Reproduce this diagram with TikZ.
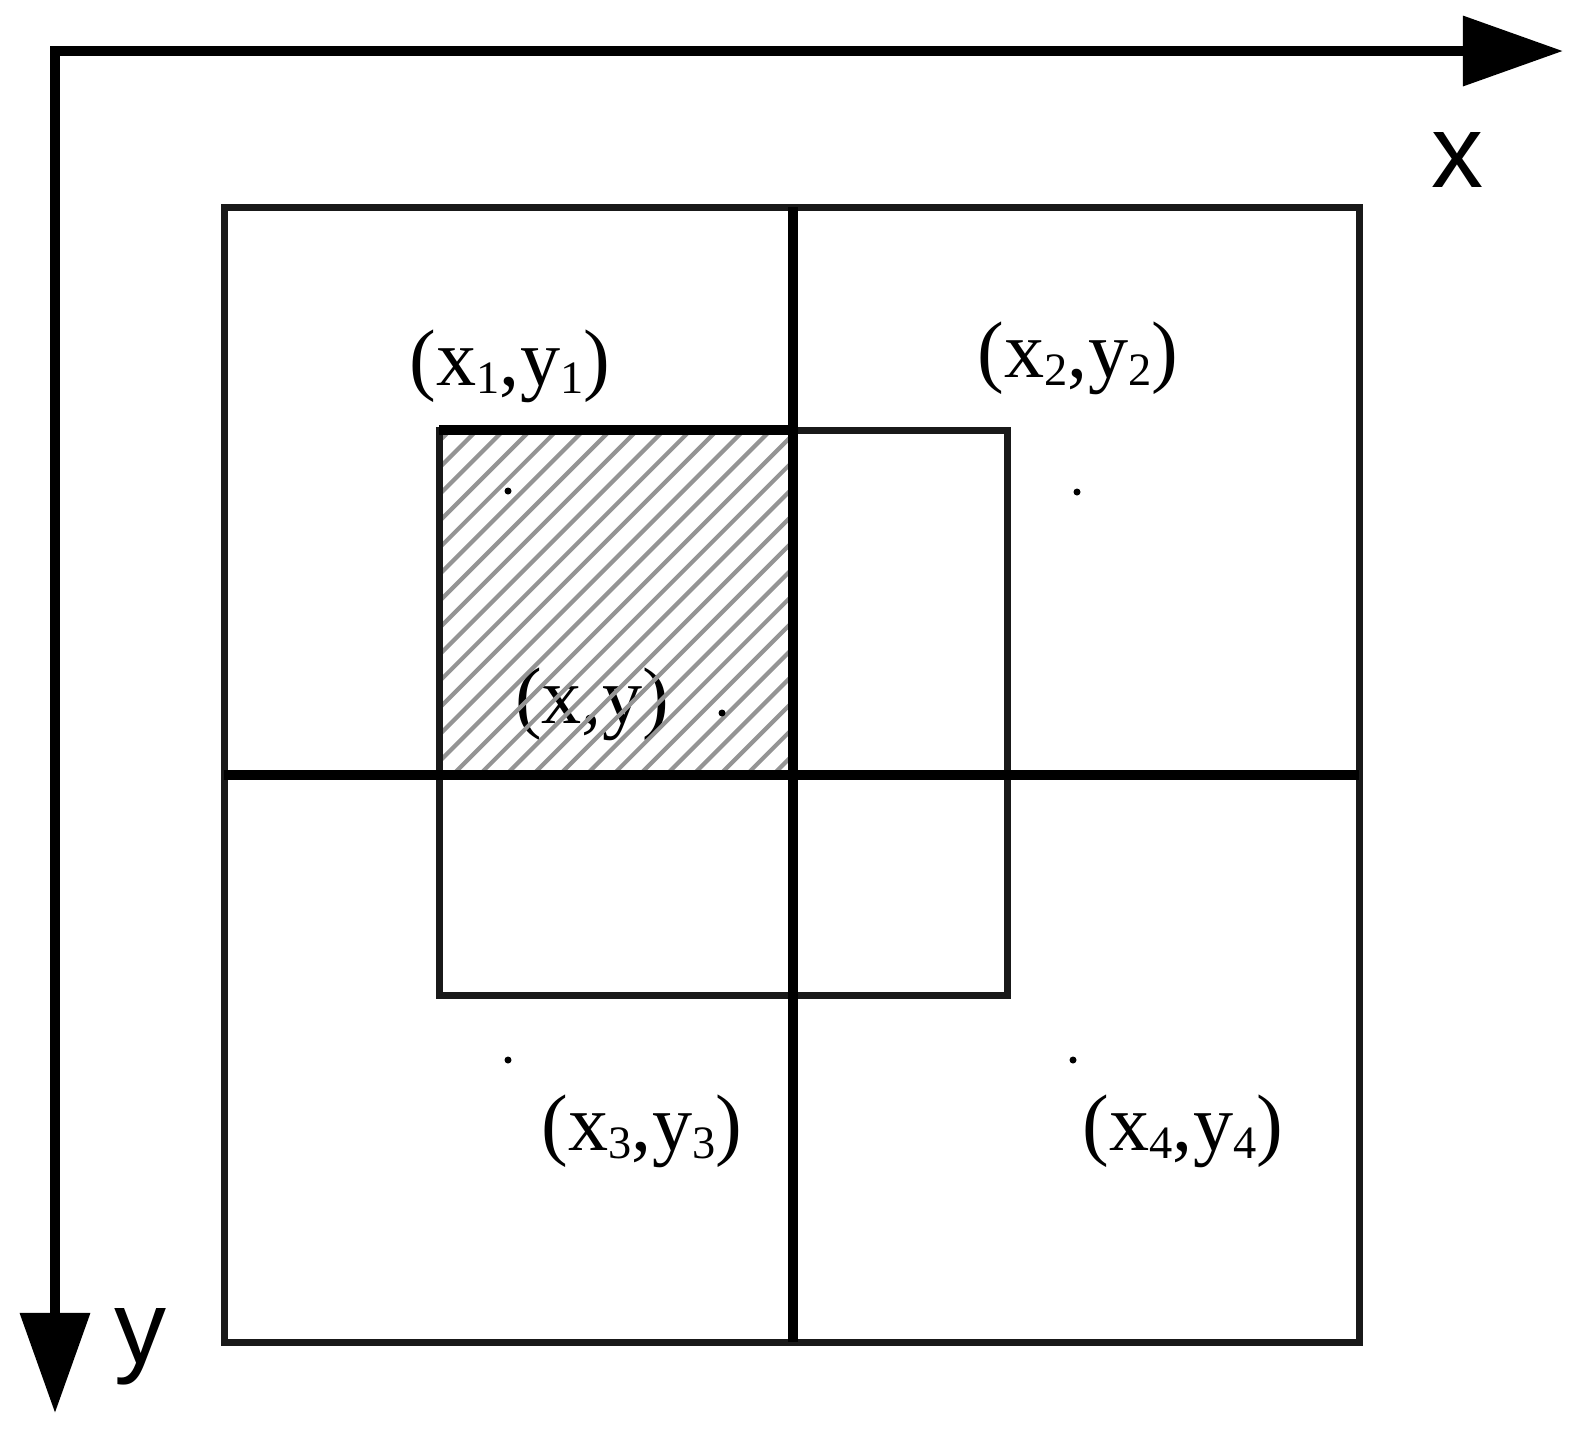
\documentclass[tikz,border=0pt]{standalone}
\usepackage{fontspec}
\setmainfont{Liberation Serif}
\setsansfont{Liberation Sans}
\usetikzlibrary{arrows.meta}
\newcommand\subidx[1]{\raisebox{-0.1em}{\fontsize{13.2}{14}\selectfont #1}}
\tikzset{
  axisline/.style={line width=0.1cm, black, {Triangle[length=1cm,width=0.68cm]}-{Triangle[length=1cm,width=0.68cm]}},
  thinbox/.style={line width=0.07cm, black!90},
  thickline/.style={line width=0.1cm, black},
  hatchline/.style={line width=0.042cm, black!42},
  lbl/.style={inner sep=0pt, font=\fontsize{22.8}{27}\selectfont},
  axlbl/.style={inner sep=0pt, font=\sffamily\fontsize{29.6}{34}\selectfont},
  dot/.style={circle, fill=black, inner sep=0pt, minimum size=0.07cm}
}
\begin{document}
\begin{tikzpicture}[x=0.01cm,y=-0.01cm]
\useasboundingbox (0,0) rectangle (1582,1435);
% coordinates
\coordinate (xend) at (1563,51);
\coordinate (origin) at (55,51);
\coordinate (yend) at (55,1413);
% axes
\draw[axisline, line join=miter] (xend) -- (origin) -- (yend);
\node[axlbl] (xl) at (1458,160) {x};
\node[axlbl] (yl) at (141,1347) {y};
% text inside hatched area (drawn first)
\node[lbl] (lxy) at (592,704) {(x,y)};
% hatch
\begin{scope}
  \clip (439,430) rectangle (793,775);
  \foreach \i in {0,...,27} {
    \draw[hatchline] ({52+26.7*\i},775) -- ++(400,-400);
  }
\end{scope}
% outer square and inner rectangle
\draw[thinbox] (224,207) rectangle (1359,1342);
\draw[thinbox] (439,430) rectangle (1007,995);
% thick lines
\draw[thickline] (439,430) -- (793,430);
\draw[thickline] (793,207) -- (793,1342);
\draw[thickline] (224,775) -- (1359,775);
% dots
\node[dot] (d1) at (508,491) {};
\node[dot] (d2) at (1077,492) {};
\node[dot] (d3) at (508,1060) {};
\node[dot] (d4) at (1073,1060) {};
\node[dot] (dxy) at (722,713) {};
% labels
\node[lbl] (l1) at (510,366) {(x\subidx{1},y\subidx{1})};
\node[lbl] (l2) at (1078,358) {(x\subidx{2},y\subidx{2})};
\node[lbl] (l3) at (642,1131) {(x\subidx{3},y\subidx{3})};
\node[lbl] (l4) at (1183,1131) {(x\subidx{4},y\subidx{4})};
\end{tikzpicture}
\end{document}
